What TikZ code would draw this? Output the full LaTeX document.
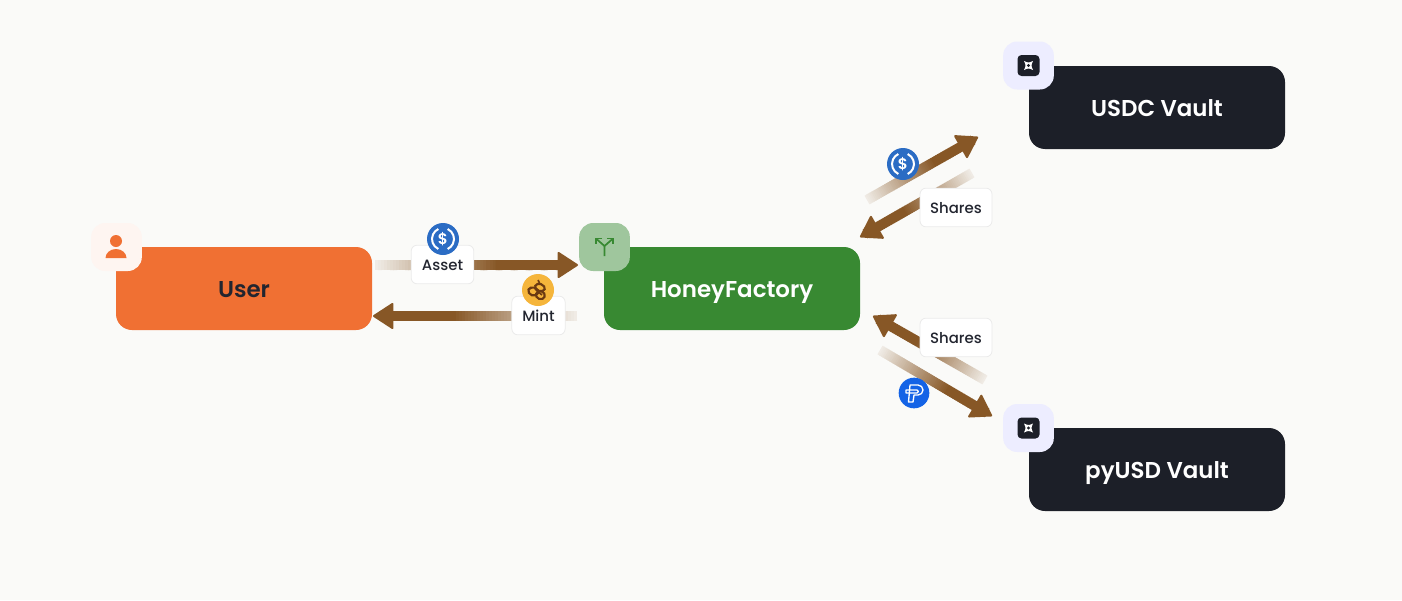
\documentclass[tikz,border=0pt]{standalone}
\usepackage{fontspec}
\setmainfont{Poppins Medium}
\newfontfamily\coinFont{Poppins SemiBold}
\usetikzlibrary{calc,arrows.meta}

\definecolor{pageBg}{HTML}{FAFAF8}
\definecolor{userOrange}{HTML}{F07033}
\definecolor{factoryGreen}{HTML}{388932}
\definecolor{vaultDark}{HTML}{1C1F28}
\definecolor{flowBrown}{HTML}{875726}
\definecolor{labelInk}{HTML}{22252F}
\definecolor{usdcBlue}{HTML}{2B6CC4}
\definecolor{pyusdBlue}{HTML}{1463E6}
\definecolor{honeyGold}{HTML}{F5B53B}
\definecolor{honeyInk}{HTML}{6B3A12}

\tikzset{
    actor/.style={rectangle,rounded corners=12pt,minimum width=192pt,minimum height=62.25pt,
        inner sep=0pt,text height=14.2pt,text depth=0pt,font=\coinFont\fontsize{17.2}{20}\selectfont},
    badge/.style={rectangle,rounded corners=10.5pt,minimum width=38pt,minimum height=36pt,inner sep=0pt},
    tag/.style={rectangle,rounded corners=4.5pt,fill=white,draw=black!8,line width=.6pt,
        minimum height=29pt,inner sep=0pt,text height=9pt,text depth=0pt,text=labelInk,
        font=\fontsize{11.2}{13}\selectfont},
    coin/.style={circle,minimum size=24pt,inner sep=0pt},
    flowShaft/.style={line width=7.5pt},
    flowHead/.style={line width=1pt,flowBrown,
        -{Triangle[round,length=16pt,width=20.5pt,line width=1.5pt]}},
}

% shaft fades into the page towards its tail, then the head
\newcommand\flowArrow[2]{%
    \foreach
    [
        evaluate=\k as \segA using \k/64*.95,
        evaluate=\k as \segB using (\k+1.3)/64*.95,
    ]
    \k in {0,...,63}
    {
        \pgfmathtruncatemacro\segMix{min(100,9+91*\k/40)}
        \draw[flowShaft,flowBrown!\segMix!pageBg] ($(#1)!\segA!(#2)$) -- ($(#1)!\segB!(#2)$);
    }
    \draw[flowHead] ($(#1)!.85!(#2)$) -- (#2);
}

% USDC mark inside a coin node
\newcommand\usdcMark[1]{%
    \draw[white,line width=1.5pt] ($(#1)+(115:11)$) arc (115:245:11);
    \draw[white,line width=1.5pt] ($(#1)+(-65:11)$) arc (-65:65:11);
    \node[text=white,font=\coinFont\fontsize{11.5}{12}\selectfont] at (#1) {\$};
}

% vault mark inside a badge node
\newcommand\vaultMark[1]{%
    \fill[vaultDark,rounded corners=3pt] ($(#1)+(-11,-10.5)$) rectangle ($(#1)+(11,10.5)$);
    \fill[white] ($(#1)+(-4.5,-4.5)$) .. controls ($(#1)+(0,-2.5)$) .. ($(#1)+(4.5,-4.5)$)
        .. controls ($(#1)+(2.5,0)$) .. ($(#1)+(4.5,4.5)$)
        .. controls ($(#1)+(0,2.5)$) .. ($(#1)+(-4.5,4.5)$)
        .. controls ($(#1)+(-2.5,0)$) .. cycle;
    \fill[vaultDark] (#1) circle (1.6);
}

\begin{document}
\begin{tikzpicture}[x=.75pt,y=-.75pt]
    %
    % page
    \fill[pageBg] (0,0) rectangle (1402,600);
    \useasboundingbox (0,0) rectangle (1402,600);
    %
    % main boxes
    \node[actor,fill=userOrange,text=labelInk] (user) at (244,288.5) {User};
    \node[actor,fill=factoryGreen,text=white] (factory) at (732,288.5) {HoneyFactory};
    \node[actor,fill=vaultDark,text=white] (usdcVault) at (1157,107.5) {USDC Vault};
    \node[actor,fill=vaultDark,text=white] (pyusdVault) at (1157,469.5) {pyUSD Vault};
    %
    % badges on the box corners
    \node[badge,fill=userOrange!7!white] (userBadge) at (116.5,247) {};
    \node[badge,fill=factoryGreen!48!white] (factoryBadge) at (604.5,247) {};
    \node[badge,fill=blue!7!white] (usdcBadge) at (1028.5,65.5) {};
    \node[badge,fill=blue!7!white] (pyusdBadge) at (1028.5,428) {};
    %
    % arrow ends
    \coordinate (assetS) at (375,265);
    \coordinate (assetE) at (578,265);
    \coordinate (mintS) at (577,316);
    \coordinate (mintE) at (373,316);
    \coordinate (usdcS) at (867,200);
    \coordinate (usdcE) at (978,137);
    \coordinate (sharesInS) at (972,173);
    \coordinate (sharesInE) at (860,237);
    \coordinate (sharesOutS) at (985,380);
    \coordinate (sharesOutE) at (873,316);
    \coordinate (pyusdS) at (880,350);
    \coordinate (pyusdE) at (992,416);
    %
    \flowArrow{assetS}{assetE}
    \flowArrow{mintS}{mintE}
    \flowArrow{usdcS}{usdcE}
    \flowArrow{sharesInS}{sharesInE}
    \flowArrow{sharesOutS}{sharesOutE}
    \flowArrow{pyusdS}{pyusdE}
    %
    % labels on the arrows
    \node[tag,minimum width=47pt] (assetTag) at (442.5,264.5) {Asset};
    \node[tag,minimum width=40pt] (mintTag) at (538.5,315.5) {Mint};
    \node[tag,minimum width=54pt] (sharesInTag) at (956,207.5) {Shares};
    \node[tag,minimum width=54pt] (sharesOutTag) at (956,337.5) {Shares};
    %
    % coins
    \node[coin,fill=usdcBlue] (assetCoin) at (443,239) {};
    \usdcMark{assetCoin}
    \node[coin,fill=usdcBlue] (usdcCoin) at (903,164) {};
    \usdcMark{usdcCoin}
    \node[coin,fill=honeyGold] (mintCoin) at (538,290) {};
    \node[coin,fill=pyusdBlue,minimum size=23pt] (pyusdCoin) at (914,393) {};
    %
    % honey mark
    \begin{scope}[shift={(mintCoin)},honeyInk]
        \draw[line width=1.6pt,rotate=-20] (-4,3) ellipse (5 and 4);
        \draw[line width=1.6pt,rotate=-20] (4,4) ellipse (4.5 and 4);
        \draw[line width=1.6pt,rotate=-20] (1,-3) ellipse (5 and 3.5);
        \draw[line width=1.2pt] (-3,-1) -- (4,5);
        \draw[line width=1.2pt] (2,-6) -- (0,-10);
        \draw[line width=1.2pt] (-6,-2) -- (-10,-1);
    \end{scope}
    %
    % pyUSD mark
    \begin{scope}[shift={(pyusdCoin)},white,line width=1pt,line join=round]
        \draw (-4,-8) -- (4,-8) arc (-90:90:5) -- (0,2) -- (-1,9) -- (-5.5,9) -- cycle;
        \draw (-8,-3) -- (3,-3) arc (-90:90:1.5) -- (-8,0) -- cycle;
    \end{scope}
    %
    % user mark
    \fill[userOrange] ($(userBadge)+(-.5,-6)$) circle (6);
    \fill[userOrange] ($(userBadge)+(-11,11)$) arc (180:360:10.5 and 9) -- cycle;
    %
    % factory mark
    \begin{scope}[shift={(factoryBadge)},factoryGreen,line width=1.3pt]
        \draw (0,9) -- (0,-1) -- (8,-8);
        \draw (0,-1) -- (-8,-8);
        \draw (2.5,-8.5) -- (8.5,-8.5) -- (8.5,-3);
        \draw (-2.5,-8.5) -- (-8.5,-8.5) -- (-8.5,-3);
    \end{scope}
    %
    % vault marks
    \vaultMark{usdcBadge}
    \vaultMark{pyusdBadge}
\end{tikzpicture}
\end{document}
